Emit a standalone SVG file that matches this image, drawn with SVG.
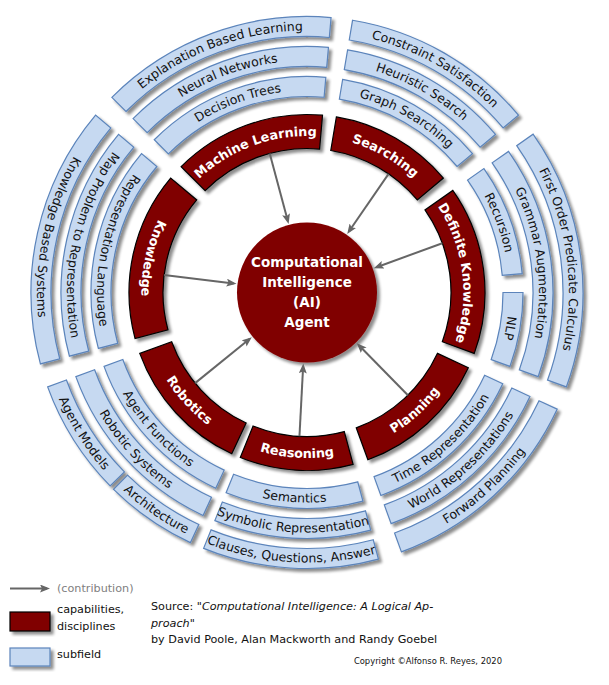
<svg xmlns="http://www.w3.org/2000/svg" width="609" height="685" viewBox="0 0 609 685">
<defs>
<style>
.dk{fill:#800000;stroke:#000;stroke-width:1.2}
.sf{fill:#c6d9f1;stroke:#5b84bb;stroke-width:1.2}
.dl{font-family:"DejaVu Sans",sans-serif;font-weight:bold;font-size:12.8px;fill:#fff}
.sl{font-family:"DejaVu Sans",sans-serif;font-size:12.5px;fill:#111}
.ct{font-family:"DejaVu Sans",sans-serif;font-weight:bold;font-size:13.5px;fill:#fff}
.lg{font-family:"DejaVu Sans",sans-serif;font-size:11.2px;fill:#111}
.ar{stroke:#666;stroke-width:2;fill:none;marker-end:url(#ah)}
</style>
<filter id="sh" x="-20%" y="-20%" width="150%" height="150%">
<feGaussianBlur in="SourceAlpha" stdDeviation="1.5"/>
<feOffset dx="2.5" dy="2.5" result="o"/>
<feComponentTransfer><feFuncA type="linear" slope="0.45"/></feComponentTransfer>
<feMerge><feMergeNode/><feMergeNode in="SourceGraphic"/></feMerge>
</filter>
<marker id="ah" markerUnits="userSpaceOnUse" markerWidth="10" markerHeight="8" refX="7" refY="4" orient="auto">
<path d="M0,0 L10,4 L0,8 L2,4 z" fill="#666"/>
</marker>
<path id="cw156" d="M171.47,214.25 A156.5 156.5 0 0 1 442.53,214.25"/>
<path id="cc165" d="M163.67,375.25 A165.5 165.5 0 0 0 450.33,375.25"/>
<path id="cw202" d="M132.06,191.5 A202 202 0 0 1 481.94,191.5"/>
<path id="cc210" d="M125.13,397.5 A210 210 0 0 0 488.87,397.5"/>
<path id="cw232" d="M106.08,176.5 A232 232 0 0 1 507.92,176.5"/>
<path id="cc240" d="M99.15,412.5 A240 240 0 0 0 514.85,412.5"/>
<path id="cw262" d="M80.1,161.5 A262 262 0 0 1 533.9,161.5"/>
<path id="cc270" d="M73.17,427.5 A270 270 0 0 0 540.83,427.5"/>
</defs>
<rect width="609" height="685" fill="#fff"/>

<!-- subfield nodes -->
<g id="decision-trees"><path class="sf" filter="url(#sh)" d="M325.83,77.32 A216 216 0 0 0 154.26,139.76 L168.41,153.91 A196 196 0 0 1 324.08,97.25 Z"/>
<text class="sl" transform="rotate(-20 307 292.5)"><textPath href="#cw202" startOffset="50%" text-anchor="middle">Decision Trees</textPath></text></g>
<g id="neural-networks"><path class="sf" filter="url(#sh)" d="M328.44,47.44 A246 246 0 0 0 133.05,118.55 L147.19,132.69 A226 226 0 0 1 326.70,67.36 Z"/>
<text class="sl" transform="rotate(-20 307 292.5)"><textPath href="#cw232" startOffset="50%" text-anchor="middle">Neural Networks</textPath></text></g>
<g id="explanation-based-learning"><path class="sf" filter="url(#sh)" d="M331.06,17.55 A276 276 0 0 0 111.84,97.34 L125.98,111.48 A256 256 0 0 1 329.31,37.48 Z"/>
<text class="sl" transform="rotate(-20 307 292.5)"><textPath href="#cw262" startOffset="50%" text-anchor="middle">Explanation Based Learning</textPath></text></g>

<g id="graph-searching"><path class="sf" filter="url(#sh)" d="M472.46,153.66 A216 216 0 0 0 342.65,79.46 L339.35,99.19 A196 196 0 0 1 457.14,166.51 Z"/>
<text class="sl" transform="rotate(29.75 307 292.5)"><textPath href="#cw202" startOffset="50%" text-anchor="middle">Graph Searching</textPath></text></g>
<g id="heuristic-search"><path class="sf" filter="url(#sh)" d="M495.45,134.37 A246 246 0 0 0 347.60,49.87 L344.30,69.60 A226 226 0 0 1 480.13,147.23 Z"/>
<text class="sl" transform="rotate(29.75 307 292.5)"><textPath href="#cw232" startOffset="50%" text-anchor="middle">Heuristic Search</textPath></text></g>
<g id="constraint-satisfaction"><path class="sf" filter="url(#sh)" d="M518.43,115.09 A276 276 0 0 0 352.55,20.28 L349.25,40.01 A256 256 0 0 1 503.11,127.95 Z"/>
<text class="sl" transform="rotate(29.75 307 292.5)"><textPath href="#cw262" startOffset="50%" text-anchor="middle">Constraint Satisfaction</textPath></text></g>

<g id="recursion"><path class="sf" filter="url(#sh)" d="M522.18,273.67 A216 216 0 0 0 483.94,168.61 L467.55,180.08 A196 196 0 0 1 502.25,275.42 Z"/>
<text class="sl" transform="rotate(70 307 292.5)"><textPath href="#cw202" startOffset="50%" text-anchor="middle">Recursion</textPath></text></g>
<g id="nlp"><path class="sf" filter="url(#sh)" d="M509.97,366.38 A216 216 0 0 0 523,292.5 L503,292.5 A196 196 0 0 1 491.18,359.54 Z"/>
<text class="sl" transform="rotate(100 307 292.5)"><textPath href="#cw202" startOffset="50%" text-anchor="middle">NLP</textPath></text></g>
<g id="grammar-augmentation"><path class="sf" filter="url(#sh)" d="M538.16,376.64 A246 246 0 0 0 508.51,151.40 L492.13,162.87 A226 226 0 0 1 519.37,369.80 Z"/>
<text class="sl" transform="rotate(82.5 307 292.5)"><textPath href="#cw232" startOffset="50%" text-anchor="middle">Grammar Augmentation</textPath></text></g>
<g id="first-order-predicate-calculus"><path class="sf" filter="url(#sh)" d="M566.35,386.90 A276 276 0 0 0 533.09,134.19 L516.70,145.66 A256 256 0 0 1 547.56,380.06 Z"/>
<text class="sl" transform="rotate(82.5 307 292.5)"><textPath href="#cw262" startOffset="50%" text-anchor="middle">First Order Predicate Calculus</textPath></text></g>

<g id="time-representation"><path class="sf" filter="url(#sh)" d="M380.88,495.47 A216 216 0 0 0 502.76,383.79 L484.64,375.33 A196 196 0 0 1 374.04,476.68 Z"/>
<text class="sl" transform="rotate(-42.5 307 292.5)"><textPath href="#cc210" startOffset="50%" text-anchor="middle">Time Representation</textPath></text></g>
<g id="world-representations"><path class="sf" filter="url(#sh)" d="M391.14,523.66 A246 246 0 0 0 529.95,396.46 L511.83,388.01 A226 226 0 0 1 384.30,504.87 Z"/>
<text class="sl" transform="rotate(-42.5 307 292.5)"><textPath href="#cc240" startOffset="50%" text-anchor="middle">World Representations</textPath></text></g>
<g id="forward-planning"><path class="sf" filter="url(#sh)" d="M401.40,551.85 A276 276 0 0 0 557.14,409.14 L539.02,400.69 A256 256 0 0 1 394.56,533.06 Z"/>
<text class="sl" transform="rotate(-42.5 307 292.5)"><textPath href="#cc270" startOffset="50%" text-anchor="middle">Forward Planning</textPath></text></g>

<g id="semantics"><path class="sf" filter="url(#sh)" d="M226.08,492.77 A216 216 0 0 0 362.91,501.14 L357.73,481.82 A196 196 0 0 1 233.58,474.23 Z"/>
<text class="sl" transform="rotate(3.5 307 292.5)"><textPath href="#cc210" startOffset="50%" text-anchor="middle">Semantics</textPath></text></g>
<g id="symbolic-representation"><path class="sf" filter="url(#sh)" d="M214.85,520.59 A246 246 0 0 0 370.67,530.12 L365.49,510.80 A226 226 0 0 1 222.34,502.04 Z"/>
<text class="sl" transform="rotate(3.5 307 292.5)"><textPath href="#cc240" startOffset="50%" text-anchor="middle">Symbolic Representation</textPath></text></g>
<g id="clauses-questions-answer"><path class="sf" filter="url(#sh)" d="M203.61,548.40 A276 276 0 0 0 378.43,559.10 L373.26,539.78 A256 256 0 0 1 211.10,529.86 Z"/>
<text class="sl" transform="rotate(3.5 307 292.5)"><textPath href="#cc270" startOffset="50%" text-anchor="middle">Clauses, Questions, Answer</textPath></text></g>

<g id="agent-functions"><path class="sf" filter="url(#sh)" d="M104.03,366.38 A216 216 0 0 0 215.71,488.26 L224.17,470.14 A196 196 0 0 1 122.82,359.54 Z"/>
<text class="sl" transform="rotate(47.5 307 292.5)"><textPath href="#cc210" startOffset="50%" text-anchor="middle">Agent Functions</textPath></text></g>
<g id="robotic-systems"><path class="sf" filter="url(#sh)" d="M75.84,376.64 A246 246 0 0 0 203.04,515.45 L211.49,497.33 A226 226 0 0 1 94.63,369.80 Z"/>
<text class="sl" transform="rotate(47.5 307 292.5)"><textPath href="#cc240" startOffset="50%" text-anchor="middle">Robotic Systems</textPath></text></g>
<g id="agent-models"><path class="sf" filter="url(#sh)" d="M47.65,386.90 A276 276 0 0 0 110.14,485.95 L124.41,471.93 A256 256 0 0 1 66.44,380.06 Z"/>
<text class="sl" transform="rotate(57.75 307 292.5)"><textPath href="#cc270" startOffset="50%" text-anchor="middle">Agent Models</textPath></text></g>
<g id="architecture"><path class="sf" filter="url(#sh)" d="M113.55,489.36 A276 276 0 0 0 190.36,542.64 L198.81,524.52 A256 256 0 0 1 127.57,475.09 Z"/>
<text class="sl" transform="rotate(34.75 307 292.5)"><textPath href="#cc270" startOffset="50%" text-anchor="middle">Architecture</textPath></text></g>

<g id="representation-language"><path class="sf" filter="url(#sh)" d="M141.54,153.66 A216 216 0 0 0 98.36,348.41 L117.68,343.23 A196 196 0 0 1 156.86,166.51 Z"/>
<text class="sl" transform="rotate(102.5 307 292.5)"><textPath href="#cc210" startOffset="50%" text-anchor="middle">Representation Language</textPath></text></g>
<g id="map-problem"><path class="sf" filter="url(#sh)" d="M118.55,134.37 A246 246 0 0 0 69.38,356.17 L88.70,350.99 A226 226 0 0 1 133.87,147.23 Z"/>
<text class="sl" transform="rotate(102.5 307 292.5)"><textPath href="#cc240" startOffset="50%" text-anchor="middle">Map Problem to Representation</textPath></text></g>
<g id="knowledge-based-systems"><path class="sf" filter="url(#sh)" d="M95.57,115.09 A276 276 0 0 0 40.40,363.93 L59.72,358.76 A256 256 0 0 1 110.89,127.95 Z"/>
<text class="sl" transform="rotate(102.5 307 292.5)"><textPath href="#cc270" startOffset="50%" text-anchor="middle">Knowledge Based Systems</textPath></text></g>

<!-- capability nodes -->
<g id="machine-learning"><path class="dk" filter="url(#sh)" d="M322.51,115.18 A178 178 0 0 0 181.13,166.63 L205.18,190.68 A144 144 0 0 1 319.55,149.05 Z"/>
<text class="dl" transform="rotate(-20 307 292.5)"><textPath href="#cw156" startOffset="50%" text-anchor="middle">Machine Learning</textPath></text></g>
<g id="searching"><path class="dk" filter="url(#sh)" d="M443.35,178.08 A178 178 0 0 0 336.38,116.94 L330.77,150.47 A144 144 0 0 1 417.31,199.94 Z"/>
<text class="dl" transform="rotate(29.75 307 292.5)"><textPath href="#cw156" startOffset="50%" text-anchor="middle">Searching</textPath></text></g>
<g id="definite-knowledge"><path class="dk" filter="url(#sh)" d="M474.26,353.38 A178 178 0 0 0 452.81,190.40 L424.96,209.90 A144 144 0 0 1 442.32,341.75 Z"/>
<text class="dl" transform="rotate(82.5 307 292.5)"><textPath href="#cw156" startOffset="50%" text-anchor="middle">Definite Knowledge</textPath></text></g>
<g id="planning"><path class="dk" filter="url(#sh)" d="M367.88,459.76 A178 178 0 0 0 468.32,367.73 L437.51,353.36 A144 144 0 0 1 356.25,427.82 Z"/>
<text class="dl" transform="rotate(-42.5 307 292.5)"><textPath href="#cc165" startOffset="50%" text-anchor="middle">Planning</textPath></text></g>
<g id="reasoning"><path class="dk" filter="url(#sh)" d="M240.32,457.54 A178 178 0 0 0 353.07,464.44 L344.27,431.59 A144 144 0 0 1 253.06,426.01 Z"/>
<text class="dl" transform="rotate(3.5 307 292.5)"><textPath href="#cc165" startOffset="50%" text-anchor="middle">Reasoning</textPath></text></g>
<g id="robotics"><path class="dk" filter="url(#sh)" d="M139.74,353.38 A178 178 0 0 0 231.77,453.82 L246.14,423.01 A144 144 0 0 1 171.68,341.75 Z"/>
<text class="dl" transform="rotate(47.5 307 292.5)"><textPath href="#cc165" startOffset="50%" text-anchor="middle">Robotics</textPath></text></g>
<g id="knowledge"><path class="dk" filter="url(#sh)" d="M170.65,178.08 A178 178 0 0 0 135.06,338.57 L167.91,329.77 A144 144 0 0 1 196.69,199.94 Z"/>
<text class="dl" transform="rotate(102.5 307 292.5)"><textPath href="#cc165" startOffset="50%" text-anchor="middle">Knowledge</textPath></text></g>

<g id="agent">
<circle cx="307" cy="292.5" r="70" fill="#800000" filter="url(#sh)"/>
<text class="ct" text-anchor="middle"><tspan x="307" y="267">Computational</tspan><tspan x="307" y="287">Intelligence</tspan><tspan x="307" y="307">(AI)</tspan><tspan x="307" y="327">Agent</tspan></text>
</g>

<g id="connectors">
<line class="ar" x1="269.73" y1="153.41" x2="287.85" y2="221.02"/>
<line class="ar" x1="388.56" y1="173.83" x2="348.91" y2="231.51"/>
<line class="ar" x1="442.32" y1="243.25" x2="376.54" y2="267.19"/>
<line class="ar" x1="164.07" y1="274.95" x2="233.55" y2="283.48"/>
<line class="ar" x1="195.09" y1="383.12" x2="249.49" y2="339.07"/>
<line class="ar" x1="299.46" y1="436.30" x2="303.13" y2="366.40"/>
<line class="ar" x1="407.93" y1="395.21" x2="358.87" y2="345.28"/>
</g>

<g id="legend">
<line class="ar" x1="10" y1="588.5" x2="47" y2="588.5"/>
<text class="lg" x="57" y="592" fill="#808080" style="fill:#808080">(contribution)</text>
<rect x="10" y="612" width="40" height="19" class="dk" filter="url(#sh)"/>
<text class="lg" x="57" y="613">capabilities,</text>
<text class="lg" x="57" y="629.5">disciplines</text>
<rect x="10" y="648" width="40" height="18" class="sf" filter="url(#sh)"/>
<text class="lg" x="57" y="657.5">subfield</text>
<text class="lg" x="151" y="610">Source: <tspan font-style="italic">"Computational Intelligence: A Logical Ap-</tspan></text>
<text class="lg" x="151" y="626.5" font-style="italic">proach"</text>
<text class="lg" x="151" y="643">by David Poole, Alan Mackworth and Randy Goebel</text>
<text x="502" y="664" text-anchor="end" style="font-family:'DejaVu Sans',sans-serif;font-size:8.4px;fill:#111">Copyright ©Alfonso R. Reyes, 2020</text>
</g>
</svg>
